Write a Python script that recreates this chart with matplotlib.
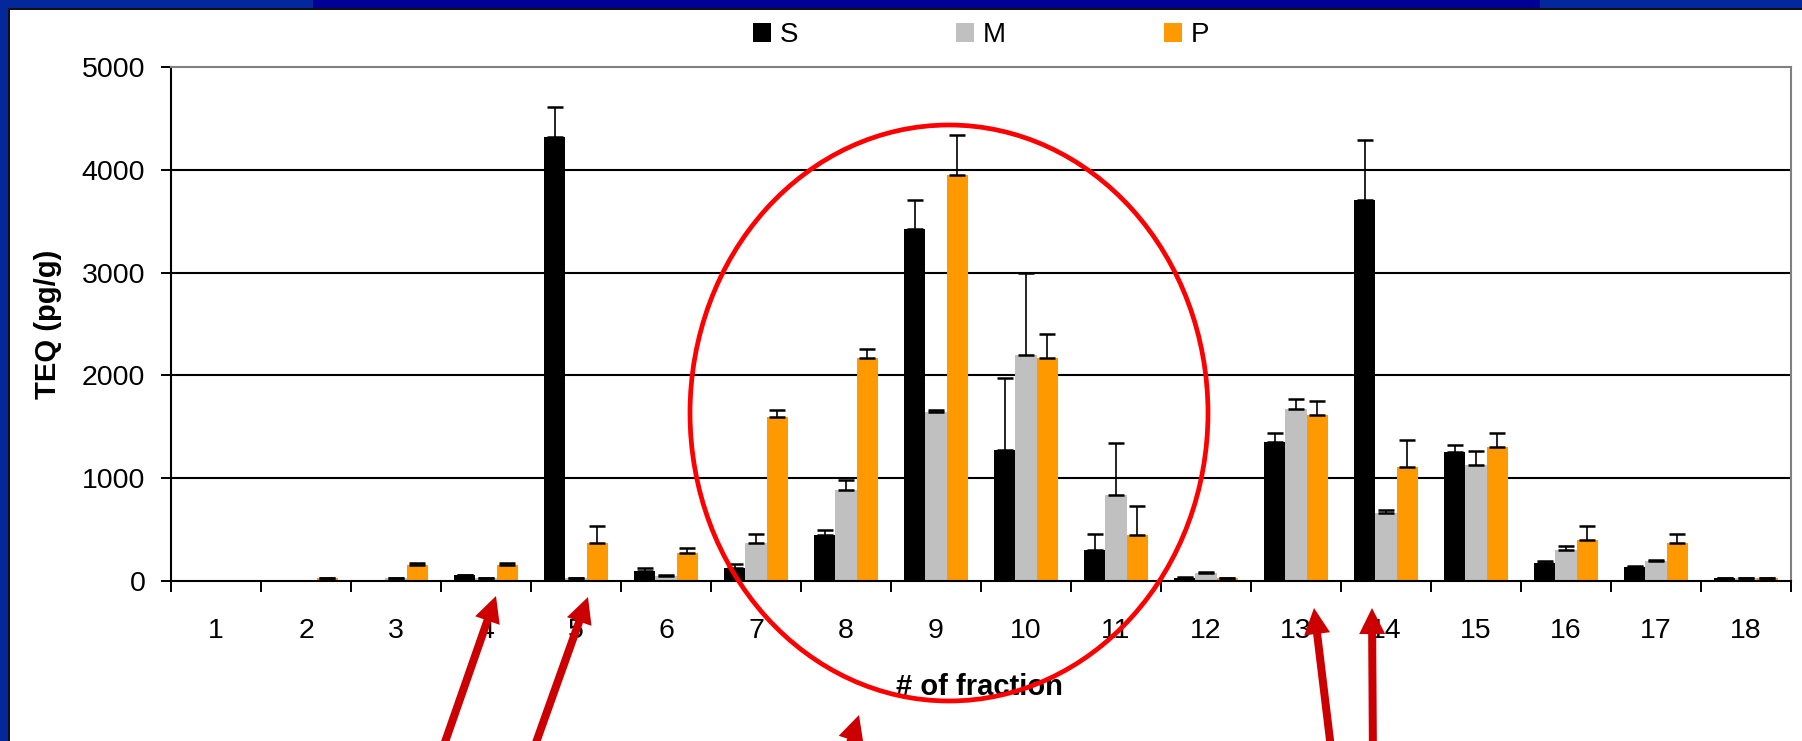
import matplotlib
matplotlib.use("Agg")
import matplotlib.pyplot as plt
import numpy as np
from matplotlib.patches import Rectangle, Ellipse, FancyArrow
from matplotlib.transforms import Affine2D

# ---- data: TEQ per fraction (pg/g), with upper error (SD) ----
fractions = list(range(1, 19))
series_names = ["S", "M", "P"]
s_vals = [1, 2, 3, 56, 4320, 102, 131, 446, 3420, 1279, 298, 30, 1351, 3709, 1252, 177, 134, 30]
s_err = [0, 0, 0, 6, 290, 23, 39, 46, 285, 700, 164, 5, 92, 582, 69, 16, 14, 4]
m_vals = [1, 2, 25, 30, 30, 49, 370, 885, 1646, 2194, 836, 75, 1669, 662, 1131, 298, 193, 30]
m_err = [0, 0, 4, 4, 4, 7, 92, 100, 20, 806, 508, 8, 106, 27, 138, 43, 8, 3]
p_vals = [1, 30, 155, 154, 370, 272, 1595, 2172, 3954, 2172, 446, 30, 1615, 1105, 1302, 397, 370, 30]
p_err = [0, 3, 20, 20, 168, 53, 66, 86, 383, 228, 282, 4, 140, 262, 141, 141, 92, 4]
y_ticks = [0, 1000, 2000, 3000, 4000, 5000]

series_vals = [s_vals, m_vals, p_vals]
series_err = [s_err, m_err, p_err]
series_colors = ["#000000", "#c0c0c0", "#ff9900"]

W, H = 1802, 741
plt.rcParams["font.family"] = ["Liberation Sans", "DejaVu Sans"]
fig = plt.figure(figsize=(W / 100, H / 100), dpi=100)
fig.patch.set_facecolor("white")

# pixel-based transform (origin bottom-left, 100 px per inch)
pxT = Affine2D().scale(1 / 100) + fig.dpi_scale_trans


def band(x0, y0, x1, y1, color):
    """Filled strip given in top-down pixel coordinates."""
    fig.add_artist(Rectangle((x0, H - y1), x1 - x0, y1 - y0, transform=pxT,
                             facecolor=color, edgecolor="none", zorder=0))


# slide frame: blue strips on top and left with a dark rule
light_blue, dark_blue = "#03289b", "#000096"
band(0, 0, 313, 8, light_blue)
band(313, 0, 1540, 8, dark_blue)
band(1540, 0, W, 8, light_blue)
band(0, 0, 8, H, light_blue)
band(8, 8, W, 10, "#111111")
band(8, 8, 10, H, "#111111")

# ---- axes ----
left, right, top, bottom = 171, 1791, 67, 581
ax = fig.add_axes([left / W, (H - bottom) / H, (right - left) / W, (bottom - top) / H])
ax.set_facecolor("white")

x = np.arange(1, len(fractions) + 1)
bw = 0.235
offsets = [-bw, 0.0, bw]

for name, vals, errs, col, off in zip(series_names, series_vals, series_err, series_colors, offsets):
    ax.bar(x + off, vals, width=bw, color=col, edgecolor="none", label=name, zorder=2)
    ax.errorbar(x + off, vals, yerr=[np.zeros(len(errs)), errs], fmt="none",
                ecolor="black", elinewidth=1.2, capsize=5.5, capthick=1.8, zorder=3)

for yv in y_ticks[1:-1]:
    ax.axhline(yv, color="black", lw=1.5, zorder=1)

ax.set_xlim(0.5, len(fractions) + 0.5)
ax.set_ylim(y_ticks[0], y_ticks[-1])
ax.set_yticks(y_ticks)
ax.set_yticklabels([str(v) for v in y_ticks], fontsize=20.5)
ax.set_xticks(x)
ax.set_xticklabels([str(f) for f in fractions], fontsize=20.5)
ax.set_xticks(np.arange(0.5, len(fractions) + 1, 1.0), minor=True)
ax.tick_params(axis="x", which="major", length=0, pad=26.5)
ax.tick_params(axis="x", which="minor", length=8, width=1.4, direction="out")
ax.tick_params(axis="y", which="major", length=7, width=1.4, direction="out", pad=11.5)

for side in ("left", "bottom"):
    ax.spines[side].set_color("black")
    ax.spines[side].set_linewidth(1.5)
for side in ("top", "right"):
    ax.spines[side].set_color("#808080")
    ax.spines[side].set_linewidth(1.5)

ax.set_ylabel("TEQ (pg/g)", fontsize=21, fontweight="bold", va="center")
ax.yaxis.set_label_coords((48 - left) / (right - left), 0.5)
ax.set_xlabel("# of fraction", fontsize=21, fontweight="bold", va="center")
ax.xaxis.set_label_coords((979 - left) / (right - left), (bottom - 687) / (bottom - top))

# legend across the top
handles = [Rectangle((0, 0), 1, 1, facecolor=c, edgecolor="none") for c in series_colors]
fig.legend(handles, series_names, loc="center", bbox_to_anchor=(981 / W, 1 - 35 / H),
           ncol=3, frameon=False, fontsize=20, handlelength=0.65, handleheight=0.65,
           handletextpad=0.3, columnspacing=5.7, borderpad=0, borderaxespad=0)

# highlight ellipse around fractions 7-11
fig.add_artist(Ellipse((949, H - 413), 518, 576, fill=False, edgecolor="#ff0000",
                       linewidth=3.4, transform=pxT, zorder=10))

# pointer arrows (tail -> tip, top-down pixel coordinates)
arrows = [((437, 765), (496, 596)),
          ((528, 765), (588, 597)),
          ((843, 765), (859, 715)),
          ((1333, 765), (1314, 608)),
          ((1373, 765), (1372, 608))]
for (tx, ty), (hx, hy) in arrows:
    fig.add_artist(FancyArrow(tx, H - ty, hx - tx, ty - hy, width=8, head_width=26,
                              head_length=26, length_includes_head=True,
                              facecolor="#cc0000", edgecolor="none", transform=pxT, zorder=11))

fig.savefig("out.png", dpi=100)
